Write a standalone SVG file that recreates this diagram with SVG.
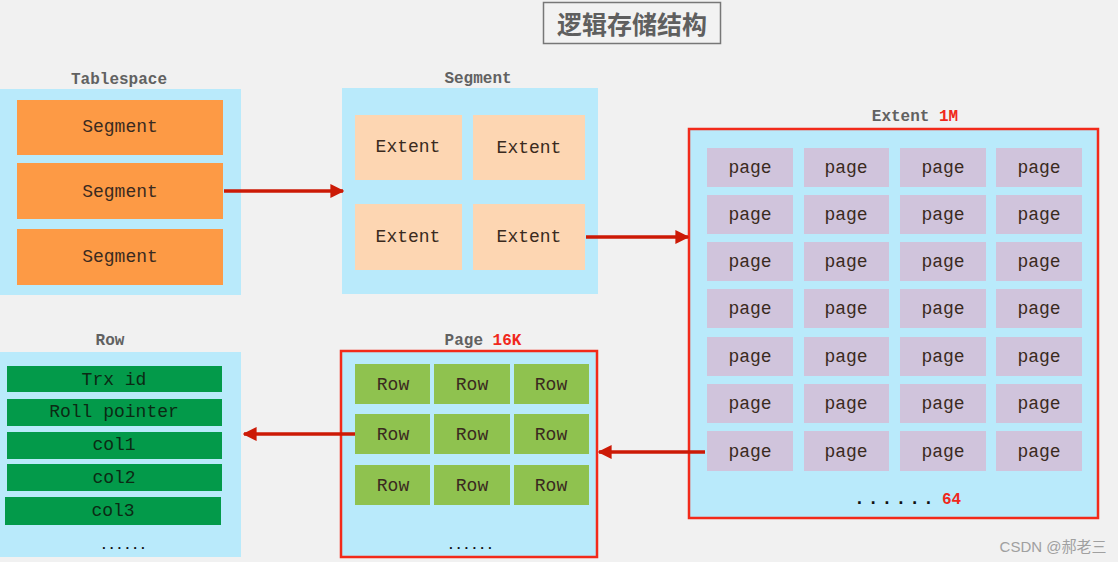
<svg xmlns="http://www.w3.org/2000/svg" width="1118" height="562" viewBox="0 0 1118 562">
<defs>
<marker id="ah" viewBox="0 0 10 10" refX="9" refY="5" markerWidth="4" markerHeight="4" orient="auto" markerUnits="strokeWidth">
<path d="M0,0 L10,5 L0,10 z" fill="#cc1a06"/>
</marker>
<style>
.t{font-family:"Liberation Mono","Courier New",monospace;text-anchor:middle;dominant-baseline:central}
.lbl{font-family:"Liberation Mono","Courier New",monospace;font-weight:bold;font-size:16px;fill:#616161}
.cont{fill:#b9eafb}
.redbox{fill:#b9eafb;stroke:#f22a1a;stroke-width:2.5}
.seg{fill:#fd9a45}
.ext{fill:#fdd6b2}
.pg{fill:#d0c4dc}
.rw{fill:#8fc24f}
.col{fill:#039a4a}
.txt{font-size:18px;fill:#3a2a20}
.conn{stroke:#cc1a06;stroke-width:3.5;fill:none;marker-end:url(#ah)}
.dots{font-family:"Liberation Mono",monospace;font-weight:bold;fill:#111}
.lbl .red,.dots.red{fill:#f0281c}
</style>
</defs>
<rect x="0" y="0" width="1118" height="562" fill="#f1f1f1"/>

<g id="title">
<rect x="543.5" y="2.5" width="177" height="41" fill="#f2f2f2" stroke="#777" stroke-width="1.5"/>
<text x="632" y="23" font-family="'Noto Sans CJK SC',sans-serif" font-size="25" font-weight="bold" fill="#5f5f5f" text-anchor="middle" dominant-baseline="central">逻辑存储结构</text>
</g>

<g id="tablespace">
<text class="lbl" x="119" y="84" text-anchor="middle">Tablespace</text>
<rect class="cont" x="0" y="89" width="241" height="206"/>
<rect class="seg" x="17" y="100" width="206" height="55"/>
<rect class="seg" x="17" y="163" width="206" height="56"/>
<rect class="seg" x="17" y="229" width="206" height="56"/>
<text class="t txt" x="120" y="127">Segment</text>
<text class="t txt" x="120" y="192">Segment</text>
<text class="t txt" x="120" y="257">Segment</text>
</g>

<g id="segment">
<text class="lbl" x="478" y="83" text-anchor="middle">Segment</text>
<rect class="cont" x="342" y="88" width="256" height="206"/>
<rect class="ext" x="355" y="115" width="107" height="65"/>
<rect class="ext" x="473" y="115" width="112" height="65"/>
<rect class="ext" x="355" y="204" width="107" height="66"/>
<rect class="ext" x="473" y="204" width="112" height="66"/>
<text class="t txt" x="408" y="147">Extent</text>
<text class="t txt" x="529" y="148">Extent</text>
<text class="t txt" x="408" y="237">Extent</text>
<text class="t txt" x="529" y="237">Extent</text>
</g>

<g id="extent">
<text class="lbl" x="915" y="121" text-anchor="middle">Extent <tspan class="red">1M</tspan></text>
<rect class="redbox" x="689" y="129" width="409" height="389"/>
<g id="pages">
<rect class="pg" x="707" y="148" width="86" height="39"/><rect class="pg" x="804" y="148" width="85" height="39"/><rect class="pg" x="900" y="148" width="86" height="39"/><rect class="pg" x="996" y="148" width="86" height="39"/>
<rect class="pg" x="707" y="195" width="86" height="39"/><rect class="pg" x="804" y="195" width="85" height="39"/><rect class="pg" x="900" y="195" width="86" height="39"/><rect class="pg" x="996" y="195" width="86" height="39"/>
<rect class="pg" x="707" y="242" width="86" height="39"/><rect class="pg" x="804" y="242" width="85" height="39"/><rect class="pg" x="900" y="242" width="86" height="39"/><rect class="pg" x="996" y="242" width="86" height="39"/>
<rect class="pg" x="707" y="289" width="86" height="39"/><rect class="pg" x="804" y="289" width="85" height="39"/><rect class="pg" x="900" y="289" width="86" height="39"/><rect class="pg" x="996" y="289" width="86" height="39"/>
<rect class="pg" x="707" y="337" width="86" height="39"/><rect class="pg" x="804" y="337" width="85" height="39"/><rect class="pg" x="900" y="337" width="86" height="39"/><rect class="pg" x="996" y="337" width="86" height="39"/>
<rect class="pg" x="707" y="384" width="86" height="39"/><rect class="pg" x="804" y="384" width="85" height="39"/><rect class="pg" x="900" y="384" width="86" height="39"/><rect class="pg" x="996" y="384" width="86" height="39"/>
<rect class="pg" x="707" y="431" width="86" height="40"/><rect class="pg" x="804" y="431" width="85" height="40"/><rect class="pg" x="900" y="431" width="86" height="40"/><rect class="pg" x="996" y="431" width="86" height="40"/>
</g>
<g class="t txt">
<text x="750" y="168">page</text><text x="846" y="168">page</text><text x="943" y="168">page</text><text x="1039" y="168">page</text>
<text x="750" y="215">page</text><text x="846" y="215">page</text><text x="943" y="215">page</text><text x="1039" y="215">page</text>
<text x="750" y="262">page</text><text x="846" y="262">page</text><text x="943" y="262">page</text><text x="1039" y="262">page</text>
<text x="750" y="309">page</text><text x="846" y="309">page</text><text x="943" y="309">page</text><text x="1039" y="309">page</text>
<text x="750" y="357">page</text><text x="846" y="357">page</text><text x="943" y="357">page</text><text x="1039" y="357">page</text>
<text x="750" y="404">page</text><text x="846" y="404">page</text><text x="943" y="404">page</text><text x="1039" y="404">page</text>
<text x="750" y="452">page</text><text x="846" y="452">page</text><text x="943" y="452">page</text><text x="1039" y="452">page</text>
</g>
<text class="dots" x="854" y="504" font-size="18" letter-spacing="3">......</text>
<text class="dots red" x="942" y="504" font-size="16">64</text>
</g>

<g id="page">
<text class="lbl" x="483" y="345" text-anchor="middle">Page <tspan class="red">16K</tspan></text>
<rect class="redbox" x="341" y="351" width="256" height="206"/>
<rect class="rw" x="355" y="364" width="75" height="40"/><rect class="rw" x="434" y="364" width="76" height="40"/><rect class="rw" x="514" y="364" width="75" height="40"/>
<rect class="rw" x="355" y="414" width="75" height="40"/><rect class="rw" x="434" y="414" width="76" height="40"/><rect class="rw" x="514" y="414" width="75" height="40"/>
<rect class="rw" x="355" y="465" width="75" height="40"/><rect class="rw" x="434" y="465" width="76" height="40"/><rect class="rw" x="514" y="465" width="75" height="40"/>
<g class="t txt">
<text x="393" y="385">Row</text><text x="472" y="385">Row</text><text x="551" y="385">Row</text>
<text x="393" y="435">Row</text><text x="472" y="435">Row</text><text x="551" y="435">Row</text>
<text x="393" y="486">Row</text><text x="472" y="486">Row</text><text x="551" y="486">Row</text>
</g>
<text class="dots" x="447" y="549" font-size="13">......</text>
</g>

<g id="row">
<text class="lbl" x="110" y="345" text-anchor="middle">Row</text>
<rect class="cont" x="0" y="352" width="241" height="205"/>
<rect class="col" x="7" y="366" width="215" height="26"/>
<rect class="col" x="7" y="399" width="215" height="27"/>
<rect class="col" x="7" y="432" width="215" height="27"/>
<rect class="col" x="7" y="464" width="215" height="27"/>
<rect class="col" x="5" y="497" width="216" height="28"/>
<g class="t" font-size="18" fill="#0b2a14">
<text x="114" y="380">Trx id</text>
<text x="114" y="412">Roll pointer</text>
<text x="114" y="445">col1</text>
<text x="114" y="478">col2</text>
<text x="113" y="511">col3</text>
</g>
<text class="dots" x="100" y="549" font-size="13">......</text>
</g>

<g id="connectors">
<line class="conn" x1="224" y1="191" x2="343" y2="191"/>
<line class="conn" x1="586" y1="237" x2="688" y2="237"/>
<line class="conn" x1="705" y1="452" x2="599" y2="452"/>
<line class="conn" x1="355" y1="434" x2="244" y2="434"/>
</g>

<text x="1053" y="546" font-family="'Liberation Sans','Noto Sans CJK SC',sans-serif" font-size="15" fill="#a0a0a0" text-anchor="middle" dominant-baseline="central">CSDN @郝老三</text>
</svg>
